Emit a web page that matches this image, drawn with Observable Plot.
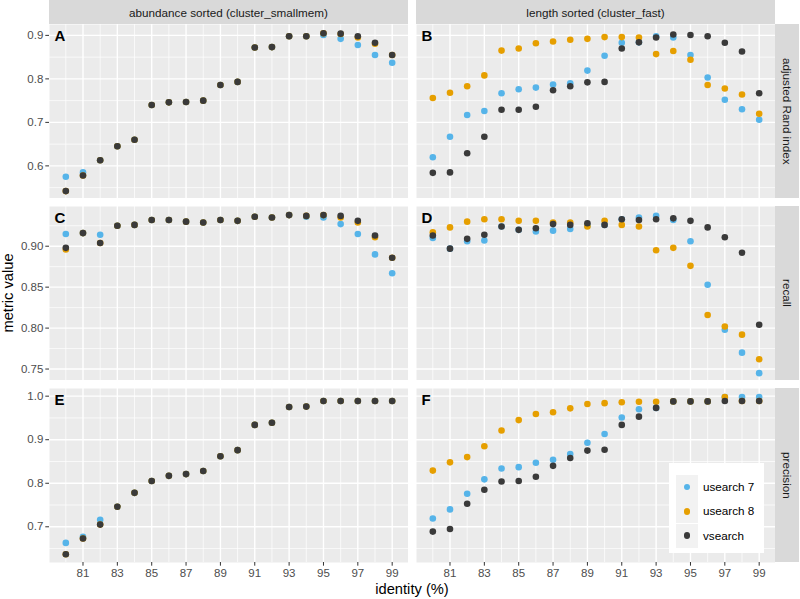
<!DOCTYPE html>
<html><head><meta charset="utf-8">
<script src="https://cdn.jsdelivr.net/npm/d3@7"></script>
<script src="https://cdn.jsdelivr.net/npm/@observablehq/plot@0.6"></script>
<style>
body{margin:0;background:#fff;}
#chart{position:relative;width:800px;height:599px;font-family:"Liberation Sans",Arial,Helvetica,sans-serif;overflow:hidden;background:#fff;}
#chart svg{position:absolute;}
.strip{position:absolute;background:#D9D9D9;color:#1A1A1A;font-size:11.7px;display:flex;align-items:center;justify-content:center;white-space:nowrap;}
.vstrip{writing-mode:vertical-rl;}
.lab{position:absolute;color:#000;font-size:14.7px;white-space:nowrap;}
</style></head><body><div id="chart"></div>
<script>
// ---- data ----
const identity = [80,81,82,83,84,85,86,87,88,89,90,91,92,93,94,95,96,97,98,99];
const tools = ["usearch 7","usearch 8","vsearch"];
const toolColors = ["#56B4E9","#E69F00","#3A3A3A"];
const columns = ["abundance sorted (cluster_smallmem)","length sorted (cluster_fast)"];
const metrics = ["adjusted Rand index","recall","precision"];
const panelLetters = [["A","B"],["C","D"],["E","F"]];

const A_usearch7 = [0.575,0.585,0.613,0.645,0.660,0.740,0.746,0.747,0.750,0.786,0.793,0.872,0.873,0.898,0.898,0.901,0.892,0.878,0.855,0.837];
const A_usearch8 = [0.542,0.578,0.613,0.645,0.660,0.740,0.746,0.747,0.750,0.786,0.793,0.872,0.873,0.898,0.898,0.905,0.903,0.895,0.881,0.855];
const A_vsearch  = [0.542,0.578,0.613,0.645,0.660,0.740,0.746,0.747,0.750,0.786,0.793,0.872,0.873,0.898,0.898,0.905,0.904,0.898,0.883,0.855];

const B_usearch7 = [0.620,0.667,0.717,0.726,0.767,0.776,0.780,0.787,0.790,0.819,0.853,0.883,0.884,0.898,0.895,0.855,0.803,0.752,0.730,0.706];
const B_usearch8 = [0.756,0.768,0.783,0.808,0.865,0.870,0.882,0.886,0.890,0.892,0.896,0.896,0.895,0.857,0.864,0.844,0.786,0.778,0.764,0.720];
const B_vsearch  = [0.584,0.585,0.629,0.667,0.729,0.729,0.736,0.774,0.783,0.792,0.793,0.870,0.884,0.895,0.902,0.901,0.898,0.883,0.863,0.767];

const C_usearch7 = [0.915,0.916,0.914,0.925,0.926,0.932,0.932,0.930,0.929,0.932,0.931,0.936,0.935,0.938,0.936,0.935,0.927,0.915,0.890,0.867];
const C_usearch8 = [0.896,0.916,0.904,0.925,0.926,0.932,0.932,0.930,0.929,0.932,0.931,0.936,0.935,0.938,0.937,0.938,0.935,0.929,0.911,0.886];
const C_vsearch  = [0.898,0.916,0.904,0.925,0.926,0.932,0.932,0.930,0.929,0.932,0.931,0.936,0.935,0.938,0.937,0.938,0.937,0.931,0.913,0.886];

const D_usearch7 = [0.910,0.897,0.906,0.907,0.924,0.920,0.918,0.919,0.921,0.925,0.926,0.933,0.935,0.937,0.932,0.906,0.853,0.798,0.770,0.745];
const D_usearch8 = [0.917,0.923,0.930,0.933,0.933,0.931,0.931,0.929,0.929,0.924,0.931,0.926,0.924,0.895,0.898,0.876,0.816,0.802,0.792,0.762];
const D_vsearch  = [0.913,0.897,0.909,0.914,0.924,0.920,0.922,0.927,0.926,0.928,0.926,0.933,0.932,0.933,0.934,0.931,0.923,0.911,0.892,0.804];

const E_usearch7 = [0.663,0.677,0.716,0.746,0.778,0.805,0.817,0.821,0.828,0.862,0.876,0.934,0.939,0.975,0.976,0.989,0.989,0.989,0.989,0.989];
const E_usearch8 = [0.637,0.673,0.705,0.746,0.778,0.805,0.817,0.821,0.828,0.862,0.876,0.934,0.939,0.975,0.976,0.989,0.989,0.989,0.989,0.989];
const E_vsearch  = [0.637,0.673,0.705,0.746,0.778,0.805,0.817,0.821,0.828,0.862,0.876,0.934,0.939,0.975,0.976,0.989,0.989,0.989,0.989,0.989];

const F_usearch7 = [0.719,0.740,0.776,0.809,0.834,0.837,0.847,0.854,0.867,0.893,0.913,0.951,0.970,0.973,0.988,0.988,0.988,0.998,0.998,0.998];
const F_usearch8 = [0.829,0.848,0.860,0.885,0.921,0.945,0.959,0.963,0.972,0.982,0.984,0.986,0.987,0.987,0.988,0.988,0.988,0.998,0.989,0.989];
const F_vsearch  = [0.689,0.695,0.753,0.785,0.804,0.805,0.815,0.840,0.858,0.875,0.877,0.934,0.953,0.973,0.988,0.988,0.988,0.989,0.989,0.989];

const panelSeries = [
  [[A_usearch7,A_usearch8,A_vsearch],[B_usearch7,B_usearch8,B_vsearch]],
  [[C_usearch7,C_usearch8,C_vsearch],[D_usearch7,D_usearch8,D_vsearch]],
  [[E_usearch7,E_usearch8,E_vsearch],[F_usearch7,F_usearch8,F_vsearch]]
];

const xMajor = [81,83,85,87,89,91,93,95,97,99];
const xMinor = [80,82,84,86,88,90,92,94,96,98];
const yMajor = [[0.6,0.7,0.8,0.9],[0.75,0.80,0.85,0.90],[0.7,0.8,0.9,1.0]];
const yMinor = [[0.55,0.65,0.75,0.85],[0.775,0.825,0.875,0.925],[0.65,0.75,0.85,0.95]];
const yFormat = [".1f",".2f",".1f"];
const yDomains = [[0.525,0.925],[0.736,0.9485],[0.618,1.0176]];
const xDomain = [79.05,99.95];

// ---- layout ----
const colLeft = [49,416], colW = 359;
const rowTop = [24,206,388], rowH = 174;
const FONT = '"Liberation Sans",Arial,Helvetica,sans-serif';
const chart = document.getElementById("chart");

for (let r = 0; r < 3; r++) {
  for (let c = 0; c < 2; c++) {
    const rows = [];
    panelSeries[r][c].forEach((vals, t) => vals.forEach((v, i) => rows.push({identity: identity[i], value: v, tool: tools[t]})));
    const ml = c === 0 ? colLeft[0] : 0;
    const mb = r === 2 ? 30 : 0;
    const marks = [
      Plot.frame({fill:"#EBEBEB", stroke:null}),
      Plot.ruleY(yMinor[r], {stroke:"#fff", strokeWidth:0.7}),
      Plot.ruleX(xMinor, {stroke:"#fff", strokeWidth:0.7}),
      Plot.ruleY(yMajor[r], {stroke:"#fff", strokeWidth:1.4}),
      Plot.ruleX(xMajor, {stroke:"#fff", strokeWidth:1.4}),
      Plot.dot(rows, {x:"identity", y:"value", fill:"tool", r:3.3, stroke:null}),
      Plot.text([panelLetters[r][c]], {frameAnchor:"top-left", dx:5, dy:6, lineAnchor:"top", textAnchor:"start", fontWeight:"bold", fontSize:15, fill:"#000"})
    ];
    if (c === 0) marks.push(Plot.axisY({ticks: yMajor[r], tickFormat: d3.format(yFormat[r]), tickSize:3.7, tickPadding:2.5, stroke:"#333", fill:"#4D4D4D", label:null}));
    if (r === 2) marks.push(Plot.axisX({ticks: xMajor, tickFormat: d3.format("d"), tickSize:3.7, tickPadding:2.5, stroke:"#333", fill:"#4D4D4D", label:null}));
    const svg = Plot.plot({
      width: ml + colW, height: rowH + mb,
      marginLeft: ml, marginRight: 0, marginTop: 0, marginBottom: mb,
      x: {domain: xDomain, axis: null, label: null},
      y: {domain: yDomains[r], axis: null, label: null},
      color: {domain: tools, range: toolColors},
      style: {fontSize:"11.5px", fontFamily: FONT, color:"#4D4D4D", background:"transparent"},
      marks
    });
    svg.style.left = (c === 0 ? 0 : colLeft[1]) + "px";
    svg.style.top = rowTop[r] + "px";
    chart.appendChild(svg);
  }
}

// top strips
columns.forEach((name, c) => {
  const d = document.createElement("div");
  d.className = "strip";
  d.style.cssText = `left:${colLeft[c]}px;top:0px;width:${colW}px;height:24px;`;
  d.textContent = name;
  chart.appendChild(d);
});
// right strips
metrics.forEach((name, r) => {
  const d = document.createElement("div");
  d.className = "strip vstrip";
  d.style.cssText = `left:775px;top:${rowTop[r]}px;width:24px;height:${rowH}px;`;
  d.textContent = name;
  chart.appendChild(d);
});

// axis titles
const yt = document.createElement("div");
yt.className = "lab";
yt.textContent = "metric value";
yt.style.cssText = "left:8px;top:293px;transform:translate(-50%,-50%) rotate(-90deg);";
chart.appendChild(yt);
const xt = document.createElement("div");
xt.className = "lab";
xt.textContent = "identity (%)";
xt.style.cssText = "left:412px;top:589px;transform:translate(-50%,-50%);";
chart.appendChild(xt);

// legend
const lg = document.createElement("div");
lg.style.cssText = "position:absolute;left:669px;top:463px;width:95px;height:90px;background:#fff;";
tools.forEach((t, i) => {
  const key = document.createElement("div");
  key.style.cssText = `position:absolute;left:7px;top:${12 + i*24.3}px;width:22px;height:24px;background:#F2F2F2;`;
  const dot = document.createElement("div");
  dot.style.cssText = `position:absolute;left:7.7px;top:8.7px;width:6.6px;height:6.6px;border-radius:50%;background:${toolColors[i]};`;
  key.appendChild(dot);
  lg.appendChild(key);
  const tx = document.createElement("div");
  tx.textContent = t;
  tx.style.cssText = `position:absolute;left:34px;top:${12 + i*24.3}px;height:24px;line-height:24px;font-size:11.7px;color:#000;white-space:nowrap;`;
  lg.appendChild(tx);
});
chart.appendChild(lg);
</script></body></html>
